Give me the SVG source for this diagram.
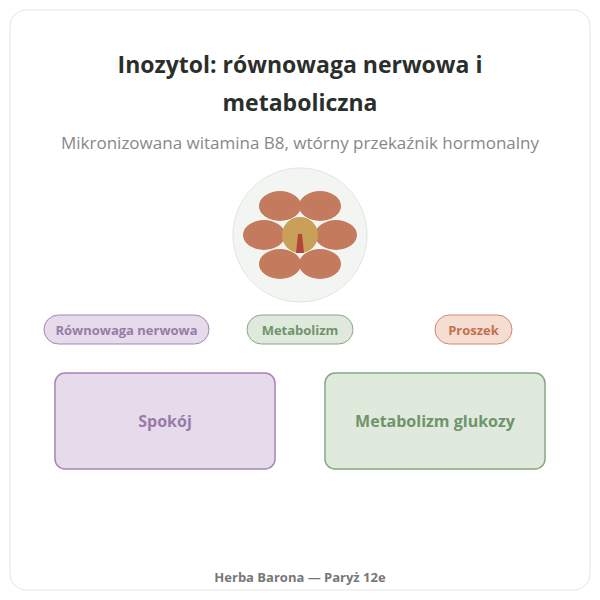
<svg xmlns="http://www.w3.org/2000/svg" width="600" height="600" viewBox="0 0 600 600">
<style>
text{font-family:"Segoe UI","Open Sans","Noto Sans",sans-serif;text-anchor:middle}
.p{fill:#c47a5c}
.pill{font-size:13px;font-weight:bold}
.box{font-size:16px;font-weight:bold}
</style>
<rect width="600" height="600" fill="#ffffff"/>
<rect x="10" y="10" width="580" height="580" rx="16" fill="#ffffff" stroke="#e4e4e4"/>
<g id="title">
<text x="300" y="73" font-size="23" font-weight="bold" fill="#2b2f2b">Inozytol: równowaga nerwowa i</text>
<text x="300" y="111" font-size="23" font-weight="bold" fill="#2b2f2b">metaboliczna</text>
<text x="300" y="149" font-size="17" fill="#888">Mikronizowana witamina B8, wtórny przekaźnik hormonalny</text>
</g>
<g id="icon">
<circle cx="300" cy="235" r="67" fill="#f3f5f2" stroke="#e0e6df"/>
<ellipse class="p" cx="280" cy="206" rx="21" ry="15"/>
<ellipse class="p" cx="320" cy="206" rx="21" ry="15"/>
<ellipse class="p" cx="264" cy="235" rx="21" ry="15"/>
<ellipse class="p" cx="336" cy="235" rx="21" ry="15"/>
<ellipse class="p" cx="280" cy="264" rx="21" ry="15"/>
<ellipse class="p" cx="320" cy="264" rx="21" ry="15"/>
<circle cx="300" cy="235" r="18" fill="#c9a058"/>
<polygon points="298,234 302,234 304,253 296,253" fill="#b5453a"/>
</g>
<g id="pill1"><rect x="44" y="315" width="165" height="29" rx="14.5" fill="#e5dbeb" stroke="#a684b4"/><text class="pill" x="126.5" y="334.5" fill="#9a7aa8">Równowaga nerwowa</text></g>
<g id="pill2"><rect x="247" y="315" width="106" height="29" rx="14.5" fill="#dfe9dc" stroke="#86a783"/><text class="pill" x="300" y="334.5" fill="#6f946c">Metabolizm</text></g>
<g id="pill3"><rect x="435" y="315" width="77" height="29" rx="14.5" fill="#f6ddd2" stroke="#d08a6c"/><text class="pill" x="473.5" y="334.5" fill="#c2724f">Proszek</text></g>
<g id="box1"><rect x="55" y="373" width="220" height="96" rx="10" fill="#e5dbeb" stroke="#a684b4" stroke-width="1.5"/><text class="box" x="165" y="427" fill="#9a7aa8">Spokój</text></g>
<g id="box2"><rect x="325" y="373" width="220" height="96" rx="10" fill="#dfe9dc" stroke="#86a783" stroke-width="1.5"/><text class="box" x="435" y="427" fill="#6f946c">Metabolizm glukozy</text></g>
<g id="connectors"/>
<text x="300" y="582" font-size="13" font-weight="bold" fill="#777">Herba Barona — Paryż 12e</text>
</svg>
